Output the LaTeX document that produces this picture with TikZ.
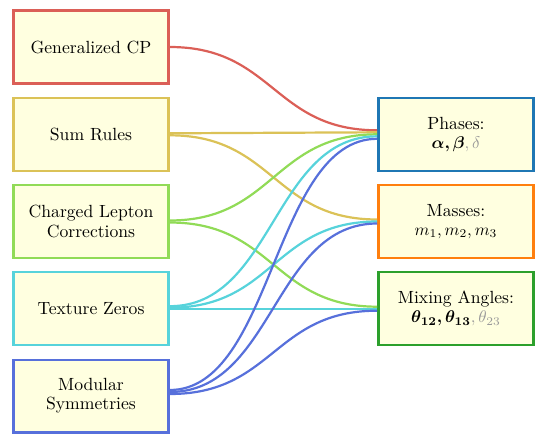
\documentclass[tikz,border=0pt]{standalone}
\usepackage{bm}
\usetikzlibrary{calc}
\definecolor{cRed}{HTML}{DB5F57}
\definecolor{cYel}{HTML}{DBC257}
\definecolor{cGrn}{HTML}{91DB57}
\definecolor{cCya}{HTML}{57D3DB}
\definecolor{cBlu}{HTML}{5770DB}
\definecolor{rBlu}{HTML}{1F77B4}
\definecolor{rOra}{HTML}{FF7F0E}
\definecolor{rGrn}{HTML}{2CA02C}
\definecolor{boxfill}{HTML}{FFFFE0}
\definecolor{faint}{HTML}{9A9A9A}
\begin{document}
\begin{tikzpicture}[x=0.59pt,y=-0.59pt,
  box/.style={draw, line width=1.35pt, fill=boxfill, minimum width=91.6pt,
    minimum height=42.9pt, align=center, inner sep=0pt,
    font=\fontsize{10.4}{11.3}\selectfont},
  flow/.style={line width=1.3pt,
    to path={.. controls ($(\tikztostart)!0.5!(\tikztotarget|-\tikztostart)$)
      and ($(\tikztotarget)!0.5!(\tikztostart|-\tikztotarget)$) .. (\tikztotarget)}}]
\useasboundingbox (0,0) rectangle (535,435);
% left boxes
\node[box, draw=cRed] (cp) at (91,47) {Generalized CP};
\node[box, draw=cYel] (sr) at (91,134.3) {Sum Rules};
\node[box, draw=cGrn] (cl) at (91,221.5) {Charged Lepton\\Corrections};
\node[box, draw=cCya] (tz) at (91,308.7) {Texture Zeros};
\node[box, draw=cBlu] (ms) at (91,396) {Modular\\Symmetries};
% right boxes
\node[box, draw=rBlu] (ph) at (456,134.3) {Phases:\\$\bm{\alpha,\beta}\textcolor{faint}{,\delta}$};
\node[box, draw=rOra] (ma) at (456,221.5) {Masses:\\$m_1,m_2,m_3$};
\node[box, draw=rGrn] (mx) at (456,308.7) {Mixing Angles:\\$\bm{\theta_{12},\theta_{13}}\textcolor{faint}{,\theta_{23}}$};
% ports, left side
\coordinate (cp1) at (cp.east);
\coordinate (sr1) at ($(sr.east)+(0,-1)$);
\coordinate (sr2) at ($(sr.east)+(0,1)$);
\coordinate (cl1) at ($(cl.east)+(0,-1)$);
\coordinate (cl2) at ($(cl.east)+(0,1)$);
\coordinate (tz1) at ($(tz.east)+(0,-2.5)$);
\coordinate (tz2) at ($(tz.east)+(0,-1)$);
\coordinate (tz3) at ($(tz.east)+(0,0)$);
\coordinate (ms1) at ($(ms.east)+(0,-6)$);
\coordinate (ms2) at ($(ms.east)+(0,-4)$);
\coordinate (ms3) at ($(ms.east)+(0,-2)$);
% ports, right side
\coordinate (ph1) at ($(ph.west)+(0,-4)$);
\coordinate (ph2) at ($(ph.west)+(0,-2)$);
\coordinate (ph3) at ($(ph.west)+(0,0)$);
\coordinate (ph4) at ($(ph.west)+(0,2)$);
\coordinate (ph5) at ($(ph.west)+(0,4.5)$);
\coordinate (ma1) at ($(ma.west)+(0,-2)$);
\coordinate (ma2) at ($(ma.west)+(0,0)$);
\coordinate (ma3) at ($(ma.west)+(0,2)$);
\coordinate (mx1) at ($(mx.west)+(0,-2)$);
\coordinate (mx2) at ($(mx.west)+(0,0)$);
\coordinate (mx3) at ($(mx.west)+(0,2)$);
% connectors
\draw[flow, cRed] (cp1) to (ph1);
\draw[flow, cYel] (sr1) to (ph2);
\draw[flow, cYel] (sr2) to (ma1);
\draw[flow, cGrn] (cl1) to (ph3);
\draw[flow, cGrn] (cl2) to (mx1);
\draw[flow, cCya] (tz1) to (ph4);
\draw[flow, cCya] (tz2) to (ma2);
\draw[flow, cCya] (tz3) to (mx2);
\draw[flow, cBlu] (ms1) to (ph5);
\draw[flow, cBlu] (ms2) to (ma3);
\draw[flow, cBlu] (ms3) to (mx3);
\end{tikzpicture}
\end{document}
